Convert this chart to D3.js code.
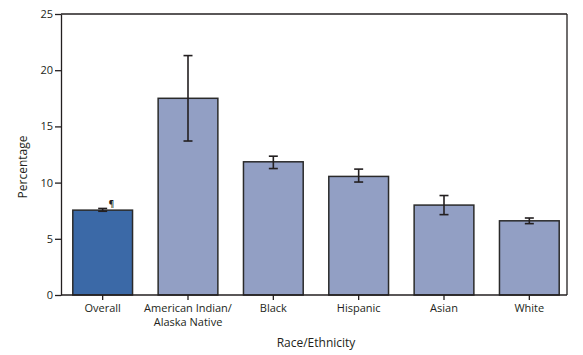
<!DOCTYPE html>
<html><head><meta charset="utf-8">
<script src="https://cdn.jsdelivr.net/npm/d3@7"></script>
<style>body{margin:0;background:#fff}svg{display:block}text{font-family:"Open Sans",sans-serif;fill:#231f20}</style>
</head><body><svg id="c" width="583" height="355"></svg>
<script>
const categories = ["Overall", "American Indian/\nAlaska Native", "Black", "Hispanic", "Asian", "White"];
const values = [7.55, 17.5, 11.85, 10.55, 8.0, 6.6];
const errLow = [7.45, 13.7, 11.25, 10.05, 7.15, 6.35];
const errHigh = [7.7, 21.3, 12.35, 11.2, 8.85, 6.85];
const yTicks = [0, 5, 10, 15, 20, 25];

const svg = d3.select("#c");
const L = 61, R = 567, T = 14, B = 295;
const x = d3.scaleBand().domain(categories).range([60, 572]).paddingInner(0.3).paddingOuter(0.15);
const y = d3.scaleLinear().domain([0, 25]).range([B, T]);
const ink = "#231f20";

// frame
svg.append("line").attr("x1", L).attr("x2", R).attr("y1", T).attr("y2", T).attr("stroke", ink).attr("stroke-width", 1.3);
svg.append("line").attr("x1", R).attr("x2", R).attr("y1", T).attr("y2", B).attr("stroke", ink).attr("stroke-width", 1.3);

// bars
const data = categories.map((c, i) => ({c, v: values[i], lo: errLow[i], hi: errHigh[i], i}));
svg.selectAll("rect.bar").data(data).join("rect").attr("class", "bar")
  .attr("x", d => x(d.c)).attr("width", x.bandwidth())
  .attr("y", d => y(d.v)).attr("height", d => y(0) - y(d.v))
  .attr("fill", d => d.i === 0 ? "#3b69a7" : "#929fc4")
  .attr("stroke", "#2a2a2a").attr("stroke-width", 1.5);

// error bars
const eb = svg.selectAll("g.err").data(data).join("g").attr("class", "err")
  .attr("transform", d => `translate(${x(d.c) + x.bandwidth() / 2},0)`);
eb.append("line").attr("y1", d => y(d.lo)).attr("y2", d => y(d.hi)).attr("stroke", ink).attr("stroke-width", 1.6);
eb.append("line").attr("x1", -4.5).attr("x2", 4.5).attr("y1", d => y(d.lo)).attr("y2", d => y(d.lo)).attr("stroke", ink).attr("stroke-width", 1.6);
eb.append("line").attr("x1", -4.5).attr("x2", 4.5).attr("y1", d => y(d.hi)).attr("y2", d => y(d.hi)).attr("stroke", ink).attr("stroke-width", 1.6);
// pilcrow
svg.append("text").attr("x", x(categories[0]) + x.bandwidth() / 2 + 6).attr("y", y(errHigh[0]) - 1)
  .attr("font-size", 8).attr("font-weight", "bold").text("¶");

// y axis
const ya = svg.append("g").attr("transform", `translate(${L},0)`)
  .call(d3.axisLeft(y).tickValues(yTicks).tickSize(6).tickSizeOuter(0));
ya.select(".domain").attr("stroke", ink).attr("stroke-width", 1.3);
ya.selectAll(".tick line").attr("stroke", ink).attr("stroke-width", 1.3);
ya.selectAll(".tick text").attr("font-size", 11).attr("fill", ink).attr("x", -8).style("font-family", '"Open Sans",sans-serif');

// x axis
const xa = svg.append("g").attr("transform", `translate(0,${B})`)
  .call(d3.axisBottom(x).tickSize(5).tickSizeOuter(0).tickFormat(""));
xa.select(".domain").attr("d", `M${L},0H${R}`).attr("stroke", ink).attr("stroke-width", 1.3);
xa.selectAll(".tick line").attr("stroke", ink).attr("stroke-width", 1.3);
xa.selectAll(".tick").each(function(d) {
  const lines = d.split("\n");
  const t = d3.select(this).append("text").attr("text-anchor", "middle").attr("font-size", 11).attr("fill", ink);
  lines.forEach((s, k) => t.append("tspan").attr("x", 0).attr("y", 17 + k * 14).text(s));
});

// titles
svg.append("text").attr("transform", `translate(27,167) rotate(-90)`).attr("text-anchor", "middle")
  .attr("font-size", 12).text("Percentage");
svg.append("text").attr("x", 316).attr("y", 347).attr("text-anchor", "middle")
  .attr("font-size", 12).text("Race/Ethnicity");
</script></body></html>
